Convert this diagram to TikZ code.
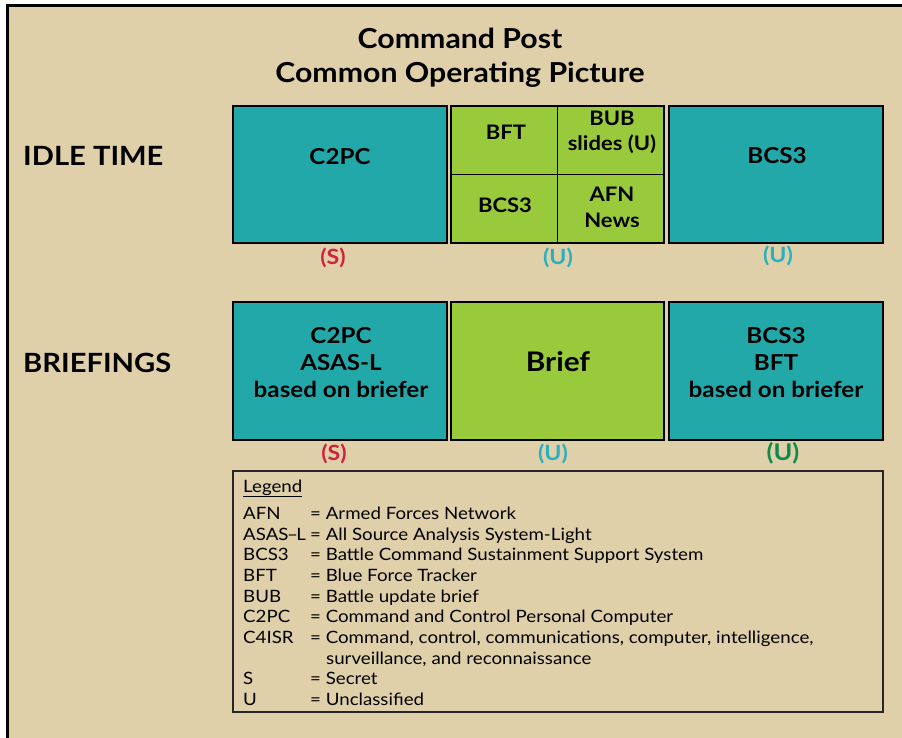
\documentclass[tikz,border=0pt]{standalone}
\usepackage{fontspec}
\setmainfont{Lato}[FakeStretch=1.1]
\definecolor{beige}{HTML}{DFD0AA}
\definecolor{tealbox}{HTML}{23A8AA}
\definecolor{greenbox}{HTML}{99CA3C}
\definecolor{sred}{HTML}{D2213F}
\definecolor{uteal}{HTML}{2AAFBF}
\definecolor{ugreen}{HTML}{0E8A4B}
\begin{document}
\begin{tikzpicture}[x=1pt,y=-1pt,
  panel/.style={draw=black, line width=1.6pt, inner sep=0pt, minimum width=214, minimum height=137},
  tpanel/.style={panel, fill=tealbox},
  gpanel/.style={panel, fill=greenbox},
  rowlabel/.style={anchor=base west, inner sep=0pt, font=\fontsize{26.5}{30}\selectfont\bfseries},
  boxtext/.style={anchor=base, inner sep=0pt, align=center, font=\fontsize{22}{27}\selectfont\bfseries},
  celltext/.style={anchor=base, inner sep=0pt, align=center, font=\fontsize{20}{25}\selectfont\bfseries},
  cls/.style={anchor=base, inner sep=0pt, font=\fontsize{21}{26}\selectfont\bfseries},
  titletext/.style={anchor=base, inner sep=0pt, font=\fontsize{27.5}{30}\selectfont\bfseries},
  leg/.style={anchor=base west, inner sep=0pt, font=\fontsize{17}{20}\selectfont}
]
\useasboundingbox (0,0) rectangle (902,738);
% background frame
\fill[white] (0,0) rectangle (902,738);
\fill[beige] (7,6) rectangle (902,738);
\draw[line width=3pt, black] (7,738) -- (7,6) -- (902,6);

% title
\node[titletext] (t1) at (460,49) {Command Post};
\node[titletext] (t2) at (460,83) {Common Operating Picture};

% row labels
\node[rowlabel] (idle) at (23,166) {IDLE TIME};
\node[rowlabel] (brief) at (23,372) {BRIEFINGS};

% idle row
\node[tpanel] (c2pcI) at (340,174.5) {};
\node[gpanel, minimum width=213] (grnI) at (557.5,174.5) {};
\node[tpanel] (bcsI) at (776,174.5) {};
\draw[line width=1pt] (grnI.north) -- (grnI.south);
\draw[line width=1pt] (grnI.west) -- (grnI.east);

\node[boxtext] (c2pcIt) at (340,165) {C2PC};
\node[boxtext] (bcsIt) at (777,164) {BCS3};
\node[celltext] (bft) at (506,140) {BFT};
\node[celltext] (bub) at (612,151) {BUB\\slides (U)};
\node[celltext] (bcsc) at (505,213) {BCS3};
\node[celltext] (afn) at (612,227) {AFN\\News};

\node[cls, text=sred] (sI) at (333,264) {(S)};
\node[cls, text=uteal] (uI1) at (558,264) {(U)};
\node[cls, text=uteal] (uI2) at (778,262) {(U)};

% briefings row
\node[tpanel, minimum height=138] (c2pcB) at (340,371) {};
\node[gpanel, minimum height=138, minimum width=213] (brB) at (557.5,371) {};
\node[tpanel, minimum height=138] (bcsB) at (776,371) {};

\node[boxtext] (c2pcBt) at (341,397) {C2PC\\ASAS-L\\based on briefer};
\node[anchor=base, inner sep=0pt, font=\fontsize{27}{30}\selectfont\bfseries] (brBt) at (558,371) {Brief};
\node[boxtext] (bcsBt) at (776,397) {BCS3\\BFT\\based on briefer};

\node[cls, text=sred] (sB) at (334,460) {(S)};
\node[cls, text=uteal] (uB1) at (553,460) {(U)};
\node[cls, text=ugreen, font=\fontsize{23}{28}\selectfont\bfseries] (uB2) at (783,460) {(U)};

% legend
\node[draw=black!85, line width=1.8pt, inner sep=0pt, minimum width=650, minimum height=241] (legbox) at (558,591.5) {};
\node[leg] (lg) at (243,492) {\underline{Legend}};
\foreach \ab/\de/\yy [count=\i] in {
  AFN/Armed Forces Network/519,
  {ASAS\kern-1.5pt–\kern-1.5ptL}/All Source Analysis System-Light/540,
  BCS3/Battle Command Sustainment Support System/560,
  BFT/Blue Force Tracker/581,
  BUB/Battle update brief/602,
  C2PC/Command and Control Personal Computer/622,
  C4ISR/{Command, control, communications, computer, intelligence,}/643,
  S/Secret/684,
  U/Unclassified/705}{
  \node[leg] (ab\i) at (243,\yy) {\ab};
  \node[leg] (de\i) at (310,\yy) {= \de};
}
\node[leg] (de10) at (326,664) {surveillance, and reconnaissance};
\end{tikzpicture}
\end{document}
